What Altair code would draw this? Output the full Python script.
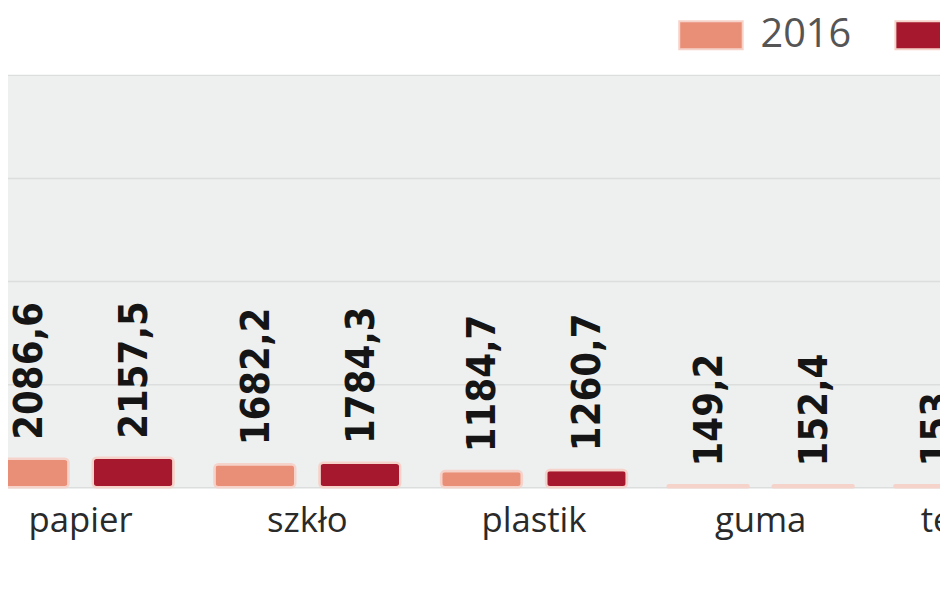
import altair as alt
import pandas as pd

categories = ["papier", "szkło", "plastik", "guma", "tekstylia"]
years = ["2016", "2017"]
values_2016 = [2086.6, 1682.2, 1184.7, 149.2, 153.0]
values_2017 = [2157.5, 1784.3, 1260.7, 152.4, 158.0]
y_ticks = [0, 7500, 15000, 22500, 30000]
colors = ["#e98f78", "#a6182d"]

rows = []
for c, a, b in zip(categories, values_2016, values_2017):
    rows.append({"kategoria": c, "rok": "2016", "wartosc": a})
    rows.append({"kategoria": c, "rok": "2017", "wartosc": b})
df = pd.DataFrame(rows)

x_enc = alt.X(
    "kategoria:N",
    sort=categories,
    scale=alt.Scale(domain=categories, range=[-41, 1102], paddingInner=0.18, paddingOuter=0.09),
    axis=alt.Axis(
        title=None, labelAngle=0, labelFont="Open Sans", labelFontSize=35,
        labelColor="#2a2a2a", labelPadding=17, ticks=False, domain=False,
        labelBound=False, labelOverlap=False, grid=False,
    ),
)
y_enc = alt.Y(
    "wartosc:Q",
    scale=alt.Scale(domain=[0, 30000]),
    axis=alt.Axis(
        values=y_ticks, labels=False, ticks=False, domain=False, title=None,
        gridColor="#dcdddd", gridWidth=1.5,
    ),
)
xoff = alt.XOffset("rok:N", sort=years, scale=alt.Scale(paddingInner=0.23))

base = alt.Chart(df).transform_calculate(
    etykieta="replace(format(datum.wartosc, '.1~f'), '.', ',')"
)

bars = base.mark_bar(cornerRadius=4, stroke="#f6d3ca", strokeWidth=2.5).encode(
    x=x_enc,
    y=y_enc,
    xOffset=xoff,
    color=alt.Color(
        "rok:N",
        scale=alt.Scale(domain=years, range=colors),
        legend=alt.Legend(
            title=None, orient="none", legendX=676, legendY=-73,
            direction="horizontal", symbolType="M-1,-0.44H1V0.44H-1Z",
            symbolSize=4096, symbolStrokeColor="#f6d3ca", symbolStrokeWidth=2,
            symbolOpacity=1, labelFont="Open Sans", labelFontSize=40,
            labelColor="#555555", labelOffset=17, columnPadding=40, padding=0,
        ),
    ),
)

labels = base.mark_text(
    angle=270, align="left", baseline="middle", dx=19, dy=2,
    font="Liberation Sans Narrow, DejaVu Sans Condensed, Roboto Condensed, Roboto, sans-serif",
    fontWeight="bold", fontSize=40,
    color="#151515",
).encode(x=x_enc, y=y_enc, xOffset=xoff, text="etykieta:N")

chart = alt.layer(bars, labels).properties(
    width=940,
    height=416,
    padding={"left": 0, "top": 65, "right": 0, "bottom": 90},
    autosize=alt.AutoSizeParams(type="none"),
).configure_view(fill="#eeefef", stroke=None)

chart.save("out.html", embed_options={"renderer": "svg", "actions": False})
